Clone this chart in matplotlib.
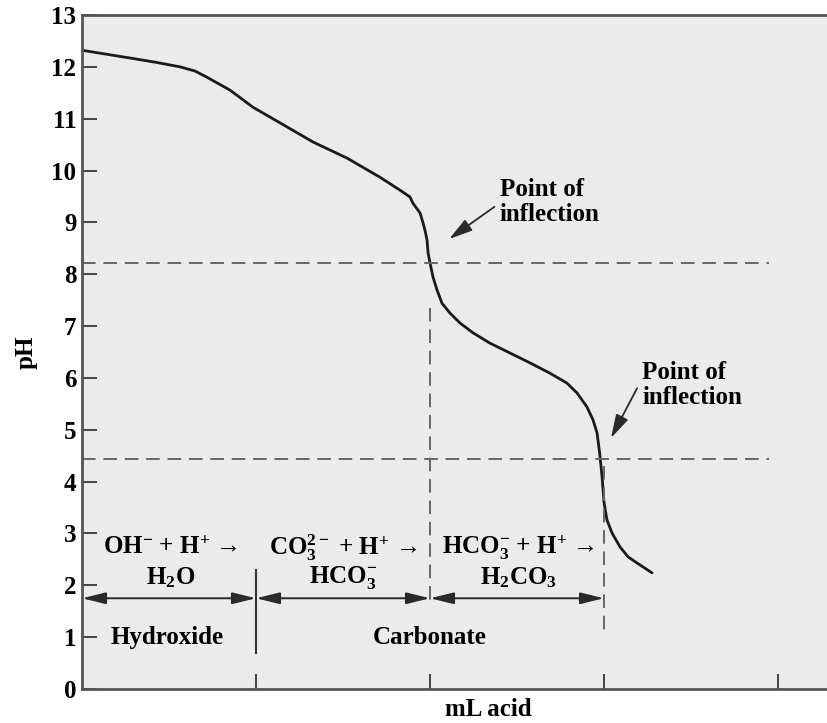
import matplotlib
matplotlib.use('Agg')
import matplotlib.pyplot as plt

# titration curve (mL acid in tick units, pH)
vol = [0.000, 0.276, 0.420, 0.563, 0.649, 0.718, 0.851, 0.983, 1.138, 1.328,
       1.523, 1.713, 1.828, 1.885, 1.902, 1.943, 1.960, 1.971, 1.983, 1.989,
       2.000, 2.017, 2.040, 2.069, 2.115, 2.172, 2.247, 2.345, 2.460, 2.575,
       2.690, 2.787, 2.845, 2.902, 2.937, 2.960, 2.975, 2.989, 3.000, 3.017,
       3.046, 3.092, 3.138, 3.190, 3.276]
ph = [12.32, 12.17, 12.09, 12.00, 11.92, 11.80, 11.55, 11.22, 10.92, 10.55,
      10.24, 9.87, 9.62, 9.49, 9.37, 9.18, 8.99, 8.85, 8.66, 8.41,
      8.22, 7.95, 7.70, 7.44, 7.25, 7.06, 6.87, 6.67, 6.48, 6.29,
      6.09, 5.90, 5.71, 5.44, 5.19, 4.94, 4.55, 4.09, 3.60, 3.26,
      3.01, 2.74, 2.55, 2.43, 2.24]

endpoint_ph = [8.22, 4.44]
endpoint_vol = [2.0, 3.0]
yticks = list(range(0, 14))
xticks = [1, 2, 3, 4]

reactions = [r'OH$^{-}$ + H$^{+}$ →', r'CO$_3^{2-}$ + H$^{+}$ →', r'HCO$_3^{-}$ + H$^{+}$ →']
products = [r'H$_2$O', r'HCO$_3^{-}$', r'H$_2$CO$_3$']
reaction_x = [0.51, 1.50, 2.51]

plt.rcParams['font.family'] = ['Liberation Serif', 'DejaVu Serif']
plt.rcParams['font.weight'] = 'bold'
plt.rcParams['axes.labelweight'] = 'bold'
plt.rcParams['mathtext.fontset'] = 'custom'
plt.rcParams['mathtext.rm'] = 'Liberation Serif:bold'
plt.rcParams['mathtext.it'] = 'Liberation Serif:bold'
plt.rcParams['mathtext.bf'] = 'Liberation Serif:bold'

fig = plt.figure(figsize=(8.28, 7.23), dpi=100)
ax = fig.add_axes([82/828, 34/723, 1 - 82/828, 674/723])
ax.set_facecolor('#ebebeb')

ax.plot(vol, ph, color='#1a1a1a', lw=2.0, solid_capstyle='round',
        solid_joinstyle='round')

dash = dict(color='#666666', lw=1.4, dashes=(7, 4))
for p in endpoint_ph:
    ax.plot([0, 3.95], [p, p], **dash)
ax.plot([endpoint_vol[0]] * 2, [7.35, 1.6], **dash)
ax.plot([endpoint_vol[1]] * 2, [4.3, 1.0], **dash)
ax.plot([1.0, 1.0], [2.3, 0.7], color='#333333', lw=1.5)

# double headed arrows for the regions
bounds = [0, 1.0, 2.0, 3.0]
for a, b in zip(bounds[:-1], bounds[1:]):
    ax.annotate('', xy=(b, 1.75), xytext=(a, 1.75),
                arrowprops=dict(arrowstyle='<|-|>,head_length=0.9,head_width=0.22',
                                color='#2a2a2a', lw=1.4, mutation_scale=16,
                                shrinkA=0, shrinkB=0))

for x, r, p in zip(reaction_x, reactions, products):
    ax.text(x, 2.72, r, ha='center', va='center', fontsize=18)
    ax.text(x, 2.15, p, ha='center', va='center', fontsize=18)

ax.text(0.49, 1.0, 'Hydroxide', ha='center', va='center', fontsize=18)
ax.text(2.0, 1.0, 'Carbonate', ha='center', va='center', fontsize=18)

ax.text(2.40, 9.40, 'Point of\ninflection', ha='left', va='center', fontsize=18,
        linespacing=1.1)
ax.annotate('', xy=(2.11, 8.68), xytext=(2.37, 9.30),
            arrowprops=dict(arrowstyle='-|>,head_length=0.9,head_width=0.25',
                            color='#2a2a2a', lw=1.3, mutation_scale=16,
                            shrinkA=0, shrinkB=0))
ax.text(3.22, 5.87, 'Point of\ninflection', ha='left', va='center', fontsize=18,
        linespacing=1.1)
ax.annotate('', xy=(3.04, 4.84), xytext=(3.19, 5.80),
            arrowprops=dict(arrowstyle='-|>,head_length=0.9,head_width=0.25',
                            color='#2a2a2a', lw=1.3, mutation_scale=16,
                            shrinkA=0, shrinkB=0))

ax.set_xlim(0, 746/174)
ax.set_ylim(0, 13)
ax.set_yticks(yticks)
ax.set_yticklabels([str(t) for t in yticks], fontsize=18)
ax.set_xticks(xticks)
ax.set_xticklabels([])
ax.tick_params(direction='in', length=11, width=1.4, color='#444444', pad=4)
ax.spines['right'].set_visible(False)
for s in ['left', 'top', 'bottom']:
    ax.spines[s].set_color('#555555')
    ax.spines[s].set_linewidth(2)

ax.set_ylabel('pH', fontsize=18, labelpad=10)
ax.text(0.544, -0.031, 'mL acid', transform=ax.transAxes, ha='center',
        va='center', fontsize=18)

fig.savefig('out.png', dpi=100)
